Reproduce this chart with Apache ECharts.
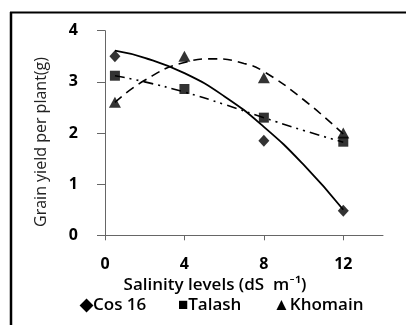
<!DOCTYPE html>
<html><head><meta charset="utf-8">
<script src="https://cdn.jsdelivr.net/npm/echarts@6/dist/echarts.min.js"></script>
<style>html,body{margin:0;padding:0;background:#fff}#c{width:406px;height:325px}</style>
</head><body><div id="c"></div>
<script>
// Observed points
var salinity = [0.5, 4, 8, 12];
var cos16 = [3.5, null, 1.85, 0.48];
var talash = [3.12, 2.86, 2.3, 1.83];
var khomain = [2.6, 3.5, 3.08, 2.0];
// Trend curves
var trendX = [0.5, 2, 4, 6, 8, 10, 12];
var cosTrend = [3.61, 3.47, 3.17, 2.72, 2.12, 1.38, 0.5];
var talashTrend = [3.12, 3.0, 2.8, 2.56, 2.3, 2.05, 1.82];
var khomainTrendX = [0.5, 2, 4, 5.5, 7, 8, 10, 12];
var khomainTrend = [2.6, 3.03, 3.38, 3.45, 3.36, 3.2, 2.65, 1.98];
var xTicks = [0, 4, 8, 12];
var legendNames = ['\u25C6Cos 16', '\u25A0Talash', '\u25B2Khomain'];
var yTitle = 'Grain yield per plant(g)';
var xTitle = 'Salinity levels (dS  m\u207B\u00B9)';

function pts(xs, ys){ var o=[]; for(var i=0;i<xs.length;i++){ if(ys[i]!=null) o.push([xs[i], ys[i]]); } return o; }

var font = '"Open Sans", Lato, sans-serif';
var legendX = [80, 178, 273];
var g = [
  {type:'line', shape:{x1:10, y1:12.5, x2:406, y2:12.5}, style:{stroke:'#000', lineWidth:2}},
  {type:'line', shape:{x1:11, y1:12, x2:11, y2:325}, style:{stroke:'#000', lineWidth:2.5}},
  {type:'text', x:215, y:285, style:{text:xTitle, font:'600 17px ' + font, fill:'#000', align:'center', verticalAlign:'middle'}},
  {type:'text', x:41, y:142, rotation:Math.PI/2, style:{text:yTitle, font:'16px ' + font, fill:'#222', align:'center', verticalAlign:'middle'}}
];
legendNames.forEach(function(n, i){
  g.push({type:'text', x:legendX[i], y:305, style:{text:n, font:'600 17px ' + font, fill:'#000', verticalAlign:'middle'}});
});
var chart = echarts.init(document.getElementById('c'));
chart.setOption({
  animation: false,
  graphic: g,
  grid: {left:105, right:23, top:30.7, bottom:89.7, containLabel:false},
  xAxis: {
    type:'value', min:0, max:14, interval:2,
    axisLine:{lineStyle:{color:'#666', width:1}},
    axisTick:{show:true, customValues: xTicks, length:5, inside:false, lineStyle:{color:'#666'}},
    axisLabel:{customValues: xTicks, margin:21, fontFamily:font, fontWeight:'bold', fontSize:16, color:'#000'},
    splitLine:{show:false}
  },
  yAxis: {
    type:'value', min:0, max:4, interval:1,
    axisLine:{show:true, lineStyle:{color:'#666', width:1}},
    axisTick:{show:true, length:8, lineStyle:{color:'#666'}},
    axisLabel:{margin:27, fontFamily:font, fontWeight:'bold', fontSize:16, color:'#000'},
    splitLine:{show:false}
  },
  series: [
    {type:'line', data:pts(trendX, cosTrend), smooth:0.5, showSymbol:false, symbol:'none', lineStyle:{color:'#000', width:1.8, type:'solid'}, z:2},
    {type:'line', data:pts(trendX, talashTrend), smooth:0.5, showSymbol:false, symbol:'none', lineStyle:{color:'#000', width:1.6, type:[10,5,2,5,2,5]}, z:2},
    {type:'line', data:pts(khomainTrendX, khomainTrend), smooth:0.5, showSymbol:false, symbol:'none', lineStyle:{color:'#000', width:1.6, type:[9,6]}, z:2},
    {name:'Cos 16', type:'scatter', data:pts(salinity, cos16), symbol:'diamond', symbolSize:[11,12], itemStyle:{color:'#000'}, z:3},
    {name:'Talash', type:'scatter', data:pts(salinity, talash), symbol:'rect', symbolSize:10, itemStyle:{color:'#000'}, z:3},
    {name:'Khomain', type:'scatter', data:pts(salinity, khomain), symbol:'triangle', symbolSize:[12,11], itemStyle:{color:'#000'}, z:4}
  ]
});
</script>
</body></html>
